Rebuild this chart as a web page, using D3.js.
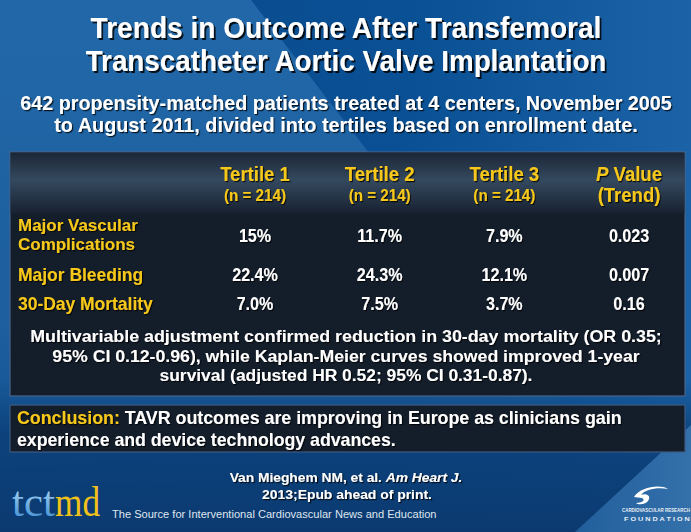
<!DOCTYPE html>
<html>
<head>
<meta charset="utf-8">
<script src="https://cdn.jsdelivr.net/npm/d3@7"></script>
<style>
html,body{margin:0;padding:0;background:#0e4a8a;}
svg{display:block;}
</style>
</head>
<body>
<div id="chart"></div>
<script>
// ---------- data ----------
const titleLines = ["Trends in Outcome After Transfemoral", "Transcatheter Aortic Valve Implantation"];
const subtitleLines = ["642 propensity-matched patients treated at 4 centers, November 2005", "to August 2011, divided into tertiles based on enrollment date."];
const columns = ["Tertile 1", "Tertile 2", "Tertile 3", "P Value"];
const columnSub = ["(n = 214)", "(n = 214)", "(n = 214)", "(Trend)"];
const outcomes = ["Major Vascular Complications", "Major Bleeding", "30-Day Mortality"];
const outcomeLabelLines = [["Major Vascular", "Complications"], ["Major Bleeding"], ["30-Day Mortality"]];
const tertile1 = ["15%", "22.4%", "7.0%"];
const tertile2 = ["11.7%", "24.3%", "7.5%"];
const tertile3 = ["7.9%", "12.1%", "3.7%"];
const pTrend = ["0.023", "0.007", "0.16"];
const footnoteLines = ["Multivariable adjustment confirmed reduction in 30-day mortality (OR 0.35;", "95% CI 0.12-0.96), while Kaplan-Meier curves showed improved 1-year", "survival (adjusted HR 0.52; 95% CI 0.31-0.87)."];
const conclusionLabel = "Conclusion:";
const conclusionLines = [" TAVR outcomes are improving in Europe as clinicians gain", "experience and device technology advances."];
const citation = ["Van Mieghem NM, et al. ", "Am Heart J.", "2013;Epub ahead of print."];
const tagline = "The Source for Interventional Cardiovascular News and Education";

// ---------- setup ----------
const W = 691, H = 532;
const GOLD = "#f7c81a", WHITE = "#ffffff";
const FONT = "'Liberation Sans', Arial, sans-serif";

const svg = d3.select("#chart").append("svg").attr("width", W).attr("height", H);
const defs = svg.append("defs");

function grad(id, x2, y2, stops) {
  const g = defs.append("linearGradient").attr("id", id).attr("x1", 0).attr("y1", 0).attr("x2", x2).attr("y2", y2);
  stops.forEach(([o, c, op]) => g.append("stop").attr("offset", o).attr("stop-color", c).attr("stop-opacity", op == null ? 1 : op));
}
grad("bgBase", 1, 0, [[0, "#0a4a8c"], [0.6, "#0a5094"], [1, "#1b62a6"]]);
grad("bgLeft", 0, 1, [[0, "#2268a8"], [0.7, "#1c5e9e"], [1, "#1a5a98", 0.6]]);
grad("bgBottom", 0, 1, [[0, "#0b3f78", 0], [0.35, "#0b3f78", 0.85], [1, "#0c3a70", 1]]);
grad("bgCorner", 1, 0, [[0, "#215f9c"], [1, "#3470aa"]]);
grad("hdr", 0, 1, [[0, "#1b2636"], [0.45, "#34495f"], [1, "#172130"]]);
grad("tctG", 0, 1, [[0, "#c7e6fb"], [0.7, "#5aa2dc"], [1, "#3d86c6"]]);

const sh = defs.append("filter").attr("id", "sh").attr("x", "-5%").attr("y", "-20%").attr("width", "110%").attr("height", "150%");
sh.append("feDropShadow").attr("dx", 2).attr("dy", 2).attr("stdDeviation", 0.6).attr("flood-color", "#000").attr("flood-opacity", 0.85);
const sh2 = defs.append("filter").attr("id", "sh2").attr("x", "-5%").attr("y", "-20%").attr("width", "110%").attr("height", "150%");
sh2.append("feDropShadow").attr("dx", 1.2).attr("dy", 1.2).attr("stdDeviation", 0.5).attr("flood-color", "#000").attr("flood-opacity", 0.8);

// background
svg.append("rect").attr("width", W).attr("height", H).attr("fill", "url(#bgBase)");
svg.append("path").attr("d", "M0,0 L251,0 L575,420 L0,470 Z").attr("fill", "url(#bgLeft)");
svg.append("rect").attr("x", 0).attr("y", 380).attr("width", W).attr("height", H - 380).attr("fill", "url(#bgBottom)");
svg.append("path").attr("d", `M575,${H} L${W},425 L${W},${H} Z`).attr("fill", "url(#bgCorner)");

// helper: write a (possibly multi-part) text line, fitted horizontally to a target width
function line(parent, o) {
  const g = parent.append("g");
  const t = g.append("text")
    .attr("x", 0).attr("y", 0)
    .attr("text-anchor", o.anchor || "start")
    .attr("font-family", o.family || FONT)
    .attr("font-weight", o.weight || "bold")
    .attr("font-size", o.size)
    .attr("filter", o.filter || null);
  (o.parts || [[o.text, {}]]).forEach(([s, st]) => {
    const sp = t.append("tspan").text(s).attr("fill", st.fill || o.fill || WHITE);
    if (st.italic) sp.attr("font-style", "italic");
  });
  let sx = o.scale || 1;
  if (o.width) sx = o.width / t.node().getComputedTextLength();
  g.attr("transform", `translate(${o.x},${o.y}) scale(${sx},1)`);
  return g;
}

// ---------- titles ----------
const titleY = d3.scalePoint().domain(titleLines).range([38, 71]);
const titleW = [511, 521];
titleLines.forEach((s, i) => line(svg, { text: s, x: 346, y: titleY(s), anchor: "middle", size: 29.5, width: titleW[i], filter: "url(#sh)" }));

const subY = d3.scalePoint().domain(subtitleLines).range([110, 132]);
const subW = [652, 584];
subtitleLines.forEach((s, i) => line(svg, { text: s, x: 346, y: subY(s), anchor: "middle", size: 19.5, width: subW[i], filter: "url(#sh2)" }));

// ---------- table ----------
const tbl = { x: 10, y: 152, w: 675, h: 244, hh: 61 };
svg.append("rect").attr("x", tbl.x).attr("y", tbl.y).attr("width", tbl.w).attr("height", tbl.h)
  .attr("fill", "#141e2b").attr("stroke", "#46648a").attr("stroke-width", 1.2);
svg.append("rect").attr("x", tbl.x + 0.6).attr("y", tbl.y + 0.6).attr("width", tbl.w - 1.2).attr("height", tbl.hh)
  .attr("fill", "url(#hdr)");

const colX = d3.scalePoint().domain(columns).range([255, 629]);

columns.forEach((c, i) => {
  const parts = c === "P Value" ? [["P", { italic: true }], [" Value", {}]] : [[c, {}]];
  line(svg, { parts, x: colX(c), y: 181, anchor: "middle", size: 19.5, fill: GOLD, scale: 0.95, filter: "url(#sh2)" });
  const isP = c === "P Value";
  line(svg, { text: columnSub[i], x: colX(c), y: isP ? 202 : 201, anchor: "middle", size: isP ? 19.5 : 16.5, fill: GOLD, scale: isP ? 0.95 : 0.92, filter: "url(#sh2)" });
});

const rowY = d3.scaleOrdinal().domain(outcomes).range([242, 281, 310]);
const labelLineH = 19;
outcomes.forEach((o, r) => {
  const lines = outcomeLabelLines[r];
  lines.forEach((s, k) => {
    const y = rowY(o) + (k - (lines.length - 1) / 2) * labelLineH - (lines.length > 1 ? 1.5 : 0);
    line(svg, { text: s, x: 18, y, size: lines.length > 1 ? 16.5 : 18, fill: GOLD, scale: lines.length > 1 ? 1.03 : 0.97, filter: "url(#sh2)" });
  });
  const vals = [tertile1[r], tertile2[r], tertile3[r], pTrend[r]];
  columns.forEach((c, j) => {
    line(svg, { text: vals[j], x: colX(c), y: rowY(o), anchor: "middle", size: 17.5, fill: WHITE, scale: 0.92, filter: "url(#sh2)" });
  });
});

const footY = d3.scalePoint().domain(footnoteLines).range([342, 381]);
const footW = [632, 588, 373];
footnoteLines.forEach((s, i) => line(svg, { text: s, x: 346, y: footY(s), anchor: "middle", size: 17, width: footW[i], filter: "url(#sh2)" }));

// ---------- conclusion ----------
svg.append("rect").attr("x", 10).attr("y", 405).attr("width", 675).attr("height", 47)
  .attr("fill", "#141e2b").attr("stroke", "#3d5b82").attr("stroke-width", 1.2);
line(svg, { parts: [[conclusionLabel, { fill: GOLD }], [conclusionLines[0], {}]], x: 17, y: 424, size: 18, width: 605, filter: "url(#sh2)" });
line(svg, { text: conclusionLines[1], x: 17, y: 446, size: 18, width: 379, filter: "url(#sh2)" });

// ---------- citation ----------
line(svg, { parts: [[citation[0], {}], [citation[1], { italic: true }]], x: 346, y: 482, anchor: "middle", size: 13.5, width: 233, filter: "url(#sh2)" });
line(svg, { text: citation[2], x: 347, y: 499, anchor: "middle", size: 13.5, width: 170, filter: "url(#sh2)" });

// ---------- logos ----------
const logo = svg.append("g");
const SERIF = "'Liberation Serif', 'DejaVu Serif', serif";
line(logo, { parts: [["tct", { fill: "url(#tctG)" }]], x: 12, y: 516, size: 42, weight: "normal", family: SERIF, width: 43 });
line(logo, { parts: [["md", { fill: "#f2c21b" }]], x: 55, y: 516, size: 42, weight: "normal", family: SERIF, width: 45 });
line(svg, { text: tagline, x: 112, y: 518, size: 11.5, weight: "normal", fill: "#dfe6ee", width: 325 });

// CRF mark
const crf = svg.append("g");
crf.append("path").attr("d", "M634,497 C640,487 660,484 668,489 C658,487 645,489 641,495 C646,493 652,496 648,501 C645,505 638,505 636,503 C642,503 646,500 642,498 Z")
  .attr("fill", "#ffffff");
line(crf, { text: "CARDIOVASCULAR RESEARCH", x: 622, y: 512, size: 5, fill: "#e8eef5", width: 68 });
line(crf, { text: "F O U N D A T I O N", x: 624, y: 521, size: 5, fill: "#e8eef5", width: 66 });
</script>
</body>
</html>
